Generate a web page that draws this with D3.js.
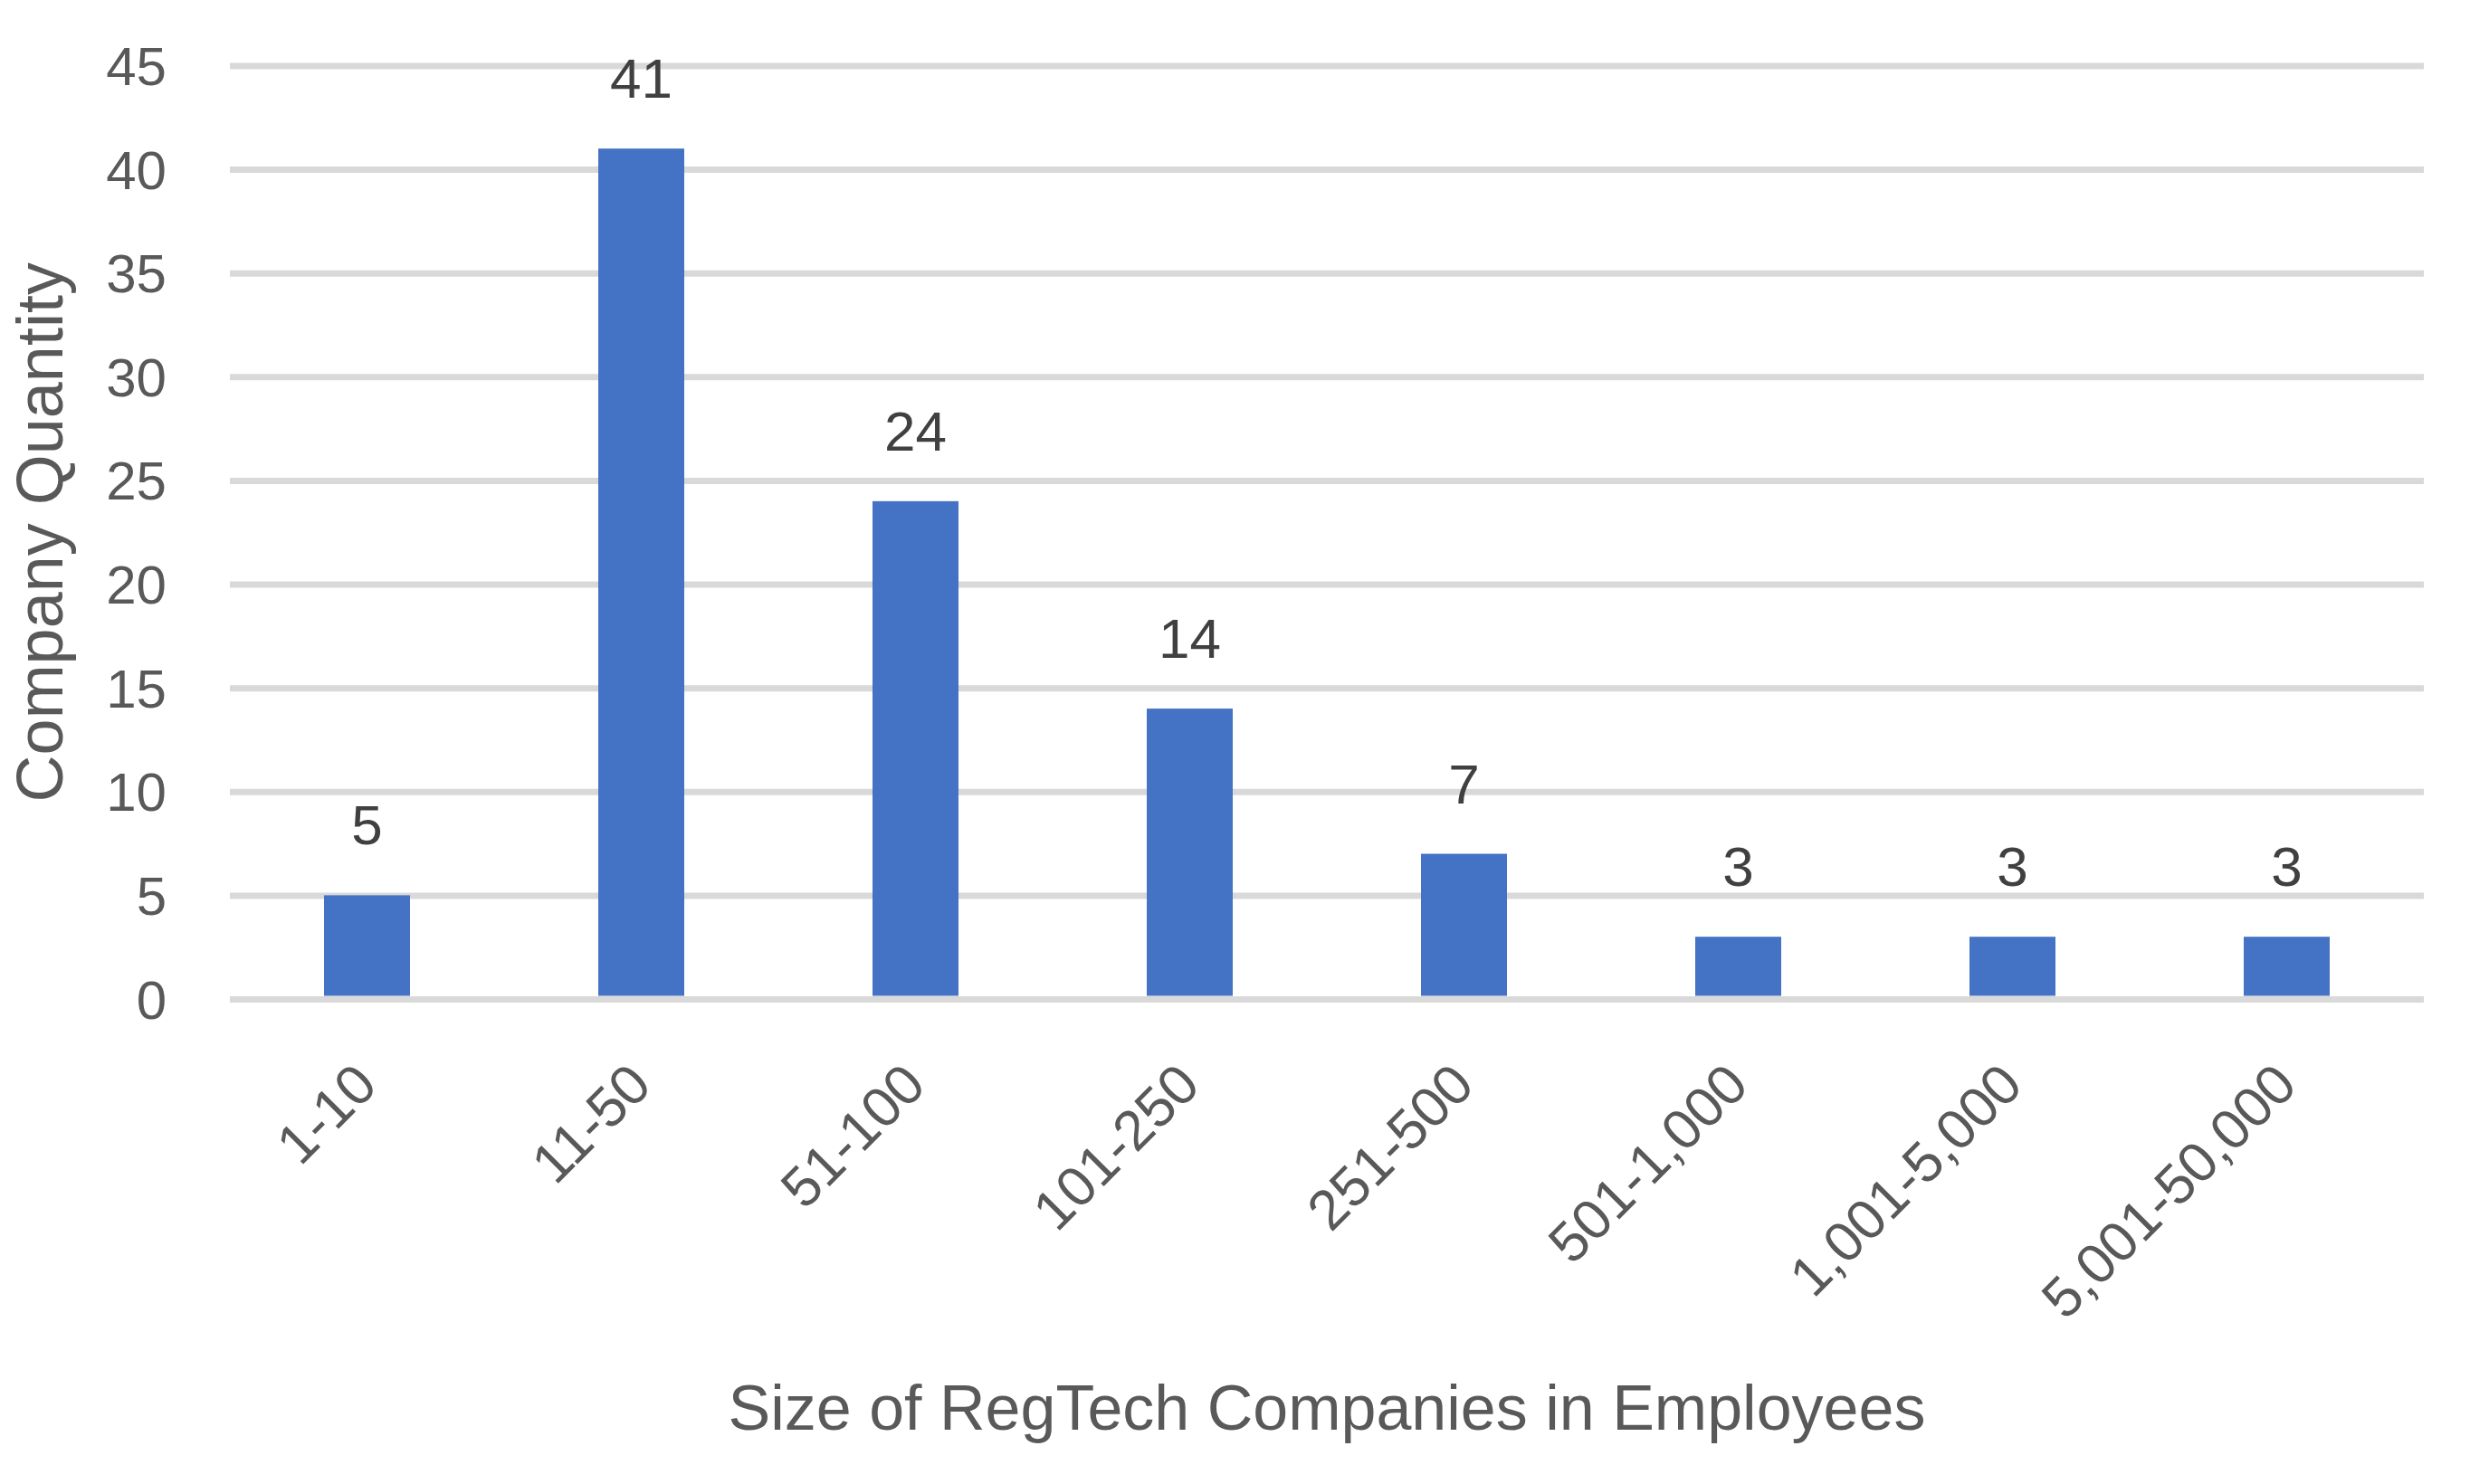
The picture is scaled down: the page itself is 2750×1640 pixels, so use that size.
<!DOCTYPE html>
<html>
<head>
<meta charset="utf-8">
<script src="https://cdn.jsdelivr.net/npm/d3@7"></script>
<style>
  html, body { margin: 0; padding: 0; background: #ffffff; }
  svg { display: block; }
</style>
</head>
<body>
<script>
// ---- data ----
const categories = ["1-10", "11-50", "51-100", "101-250", "251-500", "501-1,000", "1,001-5,000", "5,001-50,000"];
const companyCounts = [5, 41, 24, 14, 7, 3, 3, 3];
const yTicks = [0, 5, 10, 15, 20, 25, 30, 35, 40, 45];
const xTitle = "Size of RegTech Companies in Employees";
const yTitle = "Company Quantity";

// ---- layout ----
const W = 2750, H = 1640;
const plot = { left: 254, right: 2678, top: 72.5, bottom: 1104 };
const font = "'Liberation Sans', Arial, sans-serif";

const svg = d3.select("body").append("svg")
  .attr("width", W).attr("height", H)
  .attr("viewBox", `0 0 ${W} ${H}`);

const x = d3.scaleBand()
  .domain(categories)
  .range([plot.left, plot.right])
  .paddingInner(0.6865).paddingOuter(0.34325);

const xc = d3.scaleBand().domain(categories).range([plot.left, plot.right]);

const y = d3.scaleLinear().domain([0, 45]).range([plot.bottom, plot.top]);

// gridlines via axis
const yAxis = d3.axisLeft(y).tickValues(yTicks).tickSize(-(plot.right - plot.left)).tickPadding(70);
const gy = svg.append("g")
  .attr("transform", `translate(${plot.left},0)`)
  .call(yAxis);
gy.select(".domain").remove();
gy.selectAll(".tick line")
  .attr("stroke", "#d9d9d9").attr("stroke-width", 7);
gy.selectAll(".tick text")
  .attr("font-family", font).attr("font-size", 60).attr("fill", "#595959")
  .attr("dy", "0.35em");

// bars
svg.append("g").selectAll("rect")
  .data(companyCounts)
  .join("rect")
  .attr("x", (d, i) => x(categories[i]))
  .attr("width", x.bandwidth())
  .attr("y", d => y(d))
  .attr("height", d => y(0) - 3.5 - y(d))
  .attr("fill", "#4472C4");

// value labels
svg.append("g").selectAll("text")
  .data(companyCounts)
  .join("text")
  .attr("x", (d, i) => xc(categories[i]) + xc.bandwidth() / 2)
  .attr("y", d => y(d) - 56)
  .attr("text-anchor", "middle")
  .attr("font-family", font).attr("font-size", 62).attr("fill", "#404040")
  .text(d => d);

// x axis (category labels rotated)
const xAxis = d3.axisBottom(xc).tickSize(0).tickPadding(0);
const gx = svg.append("g")
  .attr("transform", `translate(0,${plot.bottom})`)
  .call(xAxis);
gx.select(".domain").remove();
gx.selectAll(".tick text")
  .attr("font-family", font).attr("font-size", 62).attr("fill", "#595959")
  .attr("text-anchor", "end")
  .attr("dy", null).attr("y", null)
  .attr("transform", "translate(14,98) rotate(-45)");

// axis titles
svg.append("text")
  .attr("x", (plot.left + plot.right) / 2)
  .attr("y", 1580)
  .attr("text-anchor", "middle")
  .attr("font-family", font).attr("font-size", 70).attr("fill", "#595959")
  .text(xTitle);

svg.append("text")
  .attr("transform", `translate(69,${(plot.top + plot.bottom) / 2}) rotate(-90)`)
  .attr("text-anchor", "middle")
  .attr("font-family", font).attr("font-size", 72).attr("fill", "#595959")
  .text(yTitle);
</script>
</body>
</html>
